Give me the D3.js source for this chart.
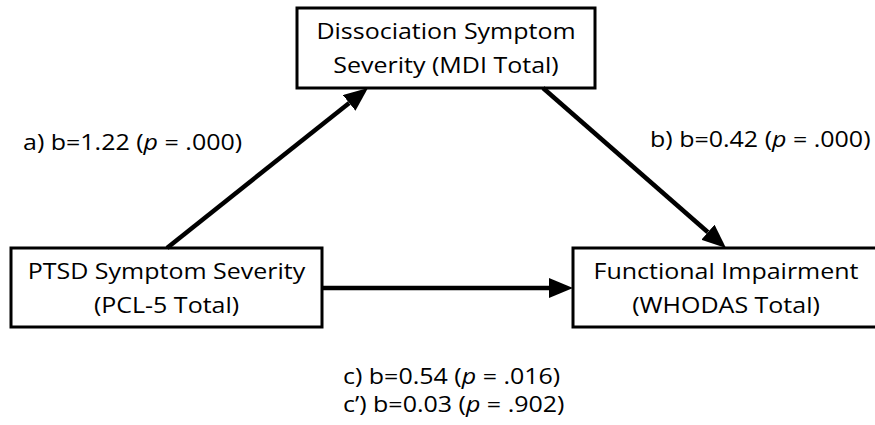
<!DOCTYPE html>
<html>
<head>
<meta charset="utf-8">
<style>
    body { margin: 0; background: #fff; }
    text { font-family: "Open Sans", sans-serif; font-size: 21px; fill: #000; }
</style>
</head>
<body>
<script src="https://cdn.jsdelivr.net/npm/d3@7"></script>
<script type="text/javascript">
    // node labels (two lines each): X, M, Y
    var nodeIds = ["X", "M", "Y"];
    var nodeLines = [
        ["PTSD Symptom Severity", "(PCL-5 Total)"],
        ["Dissociation Symptom", "Severity (MDI Total)"],
        ["Functional Impairment", "(WHODAS Total)"]
    ];

    // path coefficients
    var pathNames = ["a)", "b)", "c)", "c\u2019)"];
    var pathB = ["1.22", "0.42", "0.54", "0.03"];
    var pathP = [".000", ".000", ".016", ".902"];

    var svgWidth = 875, svgHeight = 425;
    var stretch = 1.19;   // horizontal stretch of the text

    var svg = d3.select('body')
        .append('svg')
        .attr('width', svgWidth)
        .attr('height', svgHeight);

    // box layout
    var boxes = {
        X: { x0: 11,  y0: 248, x1: 322, y1: 327 },
        M: { x0: 297, y0: 8,   x1: 595, y1: 88 },
        Y: { x0: 573, y0: 248, x1: 880, y1: 327 }
    };

    svg.append('defs').append('marker')
        .attr('id', 'head')
        .attr('markerUnits', 'userSpaceOnUse')
        .attr('viewBox', '0 -10 24 20')
        .attr('refX', 0).attr('refY', 0)
        .attr('markerWidth', 24).attr('markerHeight', 20)
        .attr('orient', 'auto')
        .append('path')
        .attr('d', 'M0,-10L24,0L0,10Z')
        .attr('fill', '#000');

    var nodes = nodeIds.map(function (id, i) {
        return { id: id, lines: nodeLines[i], box: boxes[id] };
    });

    var g = svg.selectAll('g.node')
        .data(nodes)
        .enter()
        .append('g')
        .attr('class', 'node');

    g.append('rect')
        .attr('x', function (d) { return d.box.x0; })
        .attr('y', function (d) { return d.box.y0; })
        .attr('width', function (d) { return d.box.x1 - d.box.x0; })
        .attr('height', function (d) { return d.box.y1 - d.box.y0; })
        .attr('fill', '#fff')
        .attr('stroke', '#000')
        .attr('stroke-width', 3);

    g.each(function (d) {
        var cx = (d.box.x0 + d.box.x1) / 2;
        if (d.id === 'Y') cx = 726;
        var cy = (d.box.y0 + d.box.y1) / 2;
        d3.select(this).selectAll('text')
            .data(d.lines)
            .enter()
            .append('text')
            .attr('text-anchor', 'middle')
            .attr('transform', function (t, j) {
                return 'translate(' + cx + ',' + (cy - 9 + j * 34) + ') scale(' + stretch + ',1)';
            })
            .text(function (t) { return t; });
    });

    // arrows: a (X->M), b (M->Y), c (X->Y)
    var arrows = [
        { from: [167, 248], to: [368, 88] },
        { from: [543, 88],  to: [726, 248] },
        { from: [322, 288], to: [573, 288] }
    ];
    var headLen = 24;

    svg.selectAll('line.arrow')
        .data(arrows)
        .enter()
        .append('line')
        .attr('class', 'arrow')
        .attr('x1', function (d) { return d.from[0]; })
        .attr('y1', function (d) { return d.from[1]; })
        .attr('x2', function (d) {
            var dx = d.to[0] - d.from[0], dy = d.to[1] - d.from[1];
            var len = Math.sqrt(dx * dx + dy * dy);
            return d.to[0] - dx / len * headLen;
        })
        .attr('y2', function (d) {
            var dx = d.to[0] - d.from[0], dy = d.to[1] - d.from[1];
            var len = Math.sqrt(dx * dx + dy * dy);
            return d.to[1] - dy / len * headLen;
        })
        .attr('stroke', '#000')
        .attr('stroke-width', 4.5)
        .attr('marker-end', 'url(#head)');

    // coefficient labels
    var labelPos = [[23, 150], [650, 147], [343, 384], [343, 412]];
    var labels = pathNames.map(function (n, i) {
        return { name: n, b: pathB[i], p: pathP[i], pos: labelPos[i] };
    });

    var lt = svg.selectAll('text.coef')
        .data(labels)
        .enter()
        .append('text')
        .attr('class', 'coef')
        .attr('transform', function (d) {
            return 'translate(' + d.pos[0] + ',' + d.pos[1] + ') scale(' + stretch + ',1)';
        });
    lt.append('tspan').text(function (d) { return d.name + ' b=' + d.b + ' ('; });
    lt.append('tspan').attr('font-style', 'italic').text('p');
    lt.append('tspan').text(function (d) { return ' = ' + d.p + ')'; });
</script>
</body>
</html>
